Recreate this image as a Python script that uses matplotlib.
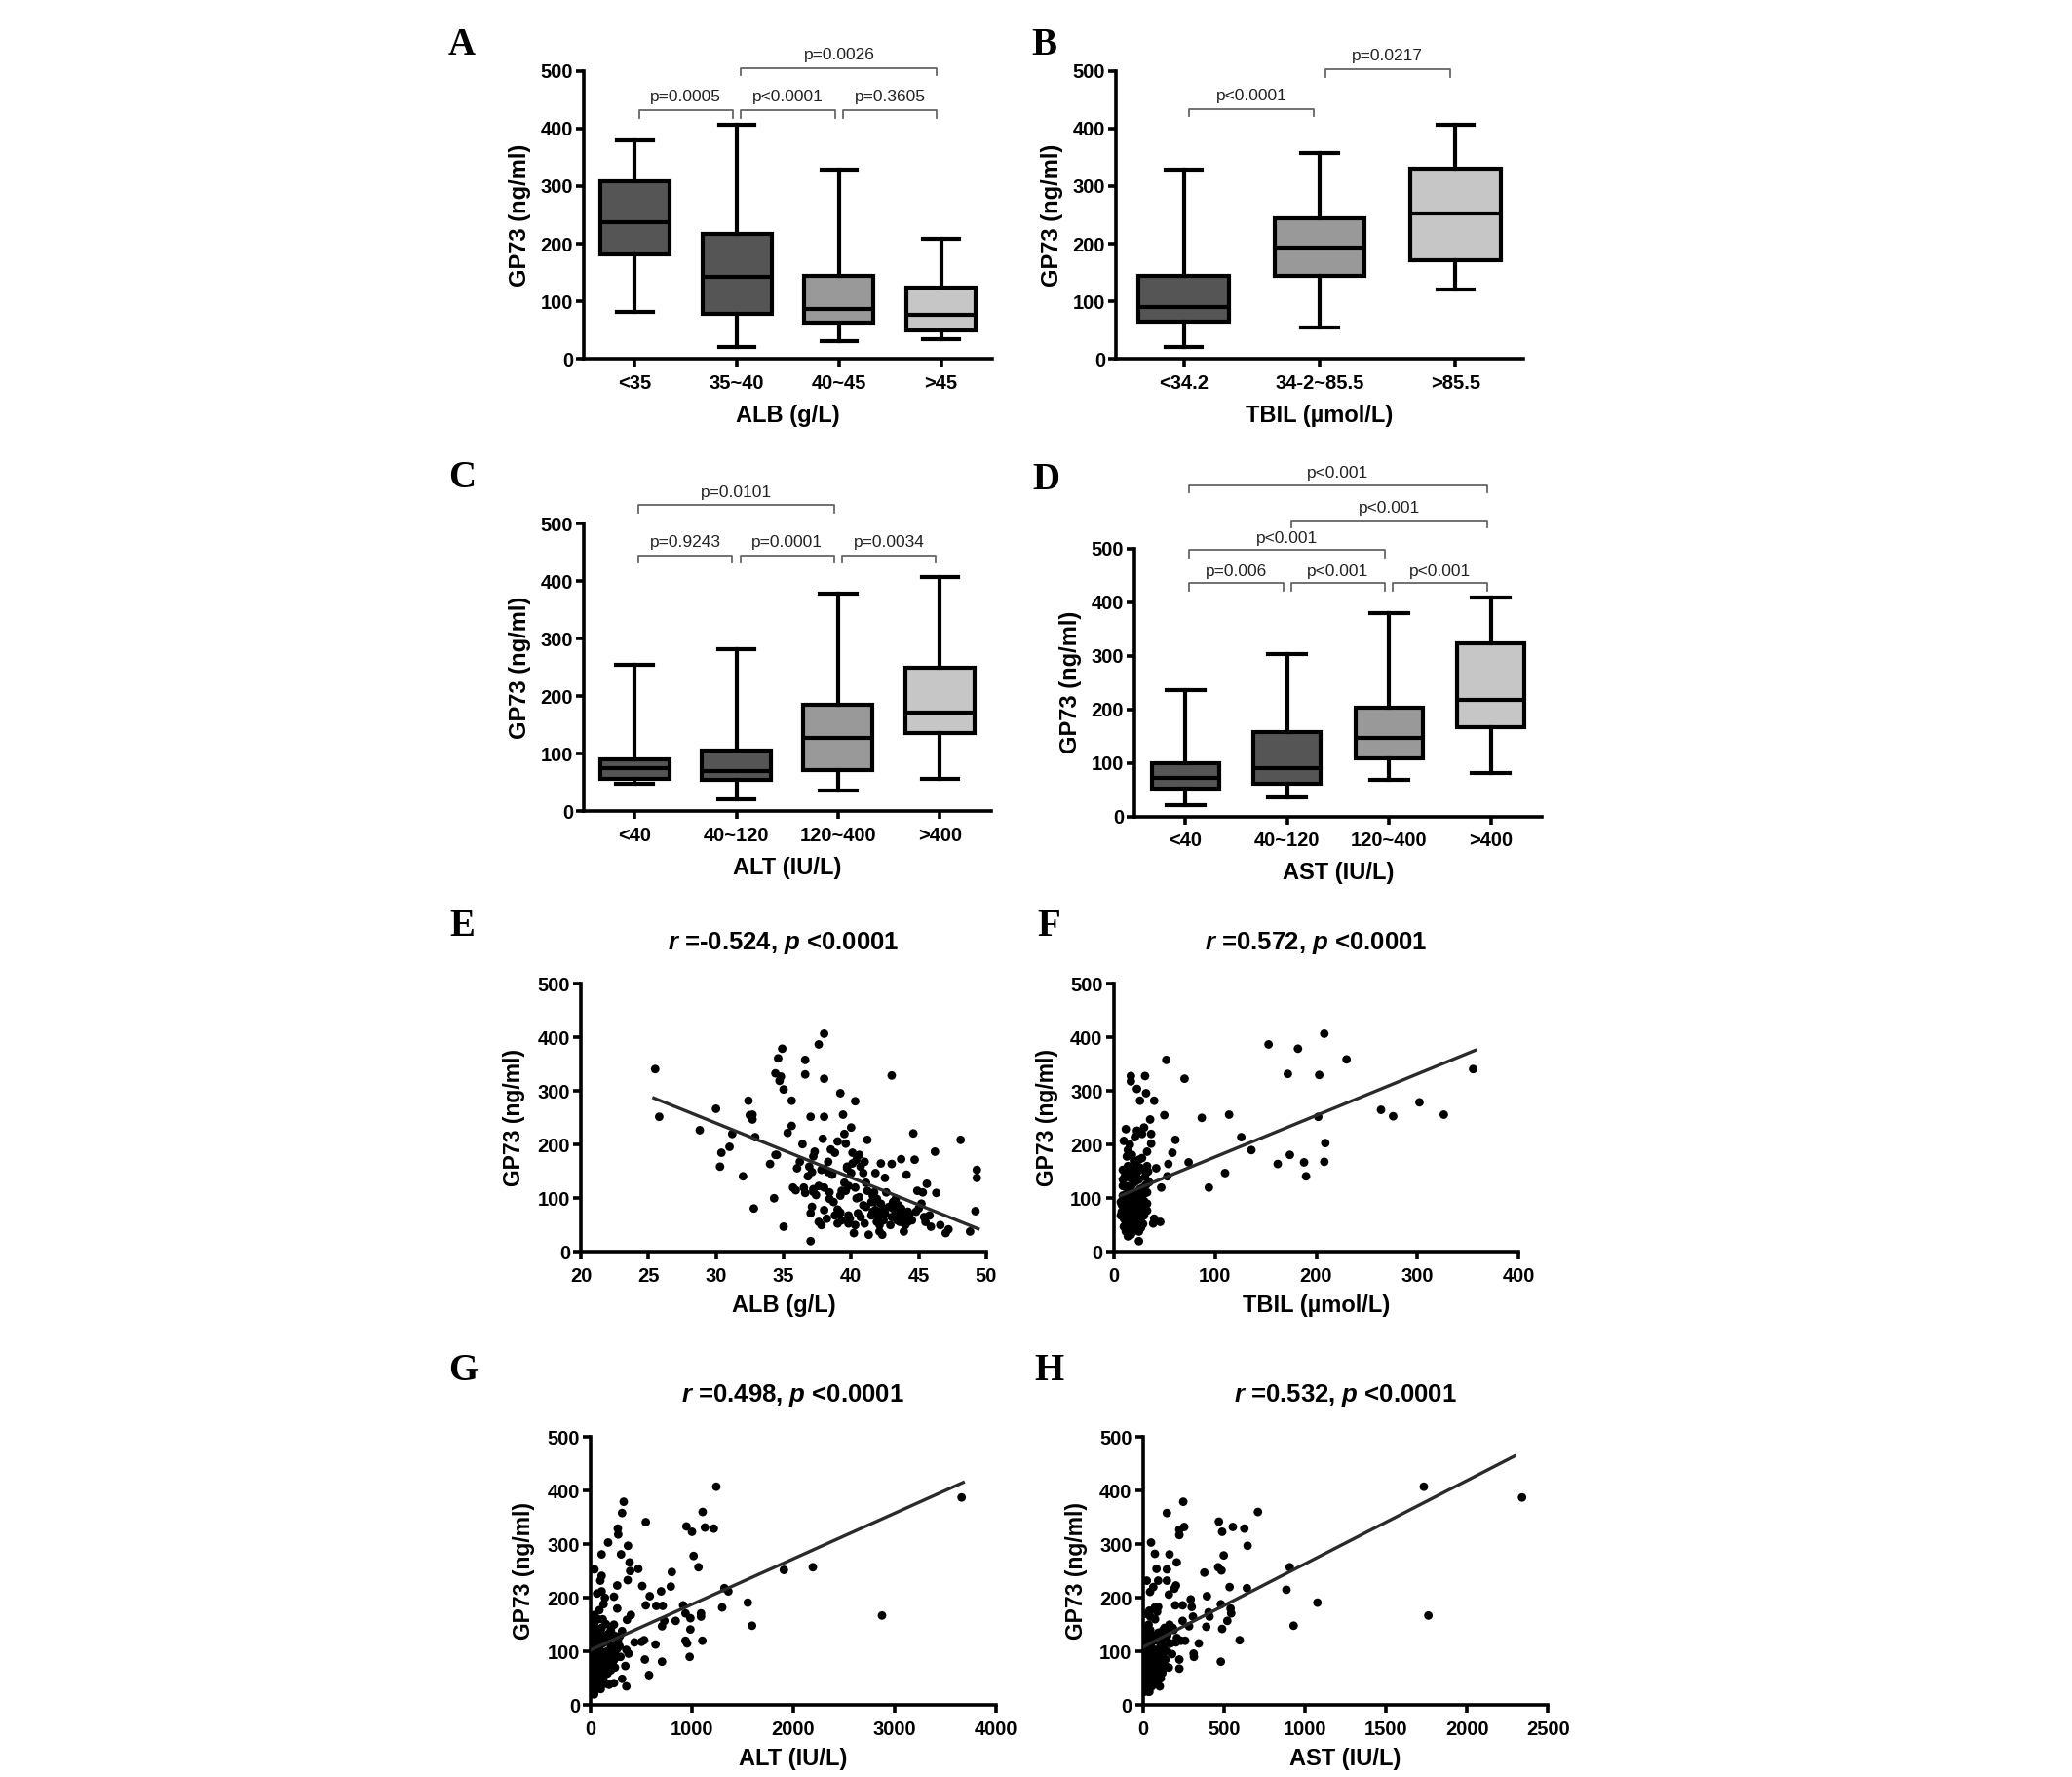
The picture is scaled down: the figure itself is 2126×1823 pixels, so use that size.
import numpy as np
import matplotlib
matplotlib.use('Agg')
import matplotlib.pyplot as plt

plt.rcParams['font.family'] = ['Liberation Sans', 'DejaVu Sans']
plt.rcParams['font.weight'] = 'bold'
plt.rcParams['axes.labelweight'] = 'bold'
plt.rcParams['mathtext.fontset'] = 'custom'
plt.rcParams['mathtext.it'] = 'Liberation Sans:italic:bold'
plt.rcParams['mathtext.rm'] = 'Liberation Sans:bold'

# ── Box plot data (GP73, ng/ml) ──────────────────────────────
alb_groups = ['<35', '35~40', '40~45', '>45']
alb_whislo = [81, 21, 31, 35]
alb_q1 = [181, 78, 63, 50]
alb_med = [237, 142, 86, 76]
alb_q3 = [308, 217, 144, 124]
alb_whishi = [379, 407, 329, 209]
alb_pvals = [(0, 1, 'p=0.0005', 432), (1, 2, 'p<0.0001', 432),
             (2, 3, 'p=0.3605', 432), (1, 3, 'p=0.0026', 505)]

tbil_groups = ['<34.2', '34-2~85.5', '>85.5']
tbil_whislo = [21, 54, 120]
tbil_q1 = [64, 144, 172]
tbil_med = [91, 193, 252]
tbil_q3 = [145, 244, 331]
tbil_whishi = [328, 358, 406]
tbil_pvals = [(0, 1, 'p<0.0001', 434), (1, 2, 'p=0.0217', 503)]

alt_groups = ['<40', '40~120', '120~400', '>400']
alt_whislo = [48, 21, 36, 57]
alt_q1 = [56, 54, 72, 136]
alt_med = [75, 70, 127, 171]
alt_q3 = [90, 105, 186, 249]
alt_whishi = [254, 282, 379, 407]
alt_pvals = [(0, 1, 'p=0.9243', 445), (1, 2, 'p=0.0001', 445),
             (2, 3, 'p=0.0034', 445), (0, 2, 'p=0.0101', 532)]

ast_groups = ['<40', '40~120', '120~400', '>400']
ast_whislo = [21, 35, 68, 82]
ast_q1 = [52, 61, 109, 167]
ast_med = [73, 90, 147, 218]
ast_q3 = [99, 158, 203, 323]
ast_whishi = [235, 304, 379, 408]
ast_pvals = [(0, 1, 'p=0.006', 435), (1, 2, 'p<0.001', 435),
             (2, 3, 'p<0.001', 435), (0, 2, 'p<0.001', 497),
             (1, 3, 'p<0.001', 553), (0, 3, 'p<0.001', 618)]

# ── Scatter data (x, GP73) ───────────────────────────────────
alb_xy = np.array([
    (25.5, 341), (25.8, 252), (28.8, 227), (30.0, 267), (30.4, 185), (30.3, 159), (31.0, 196),
    (31.2, 220), (32.0, 141), (32.4, 282), (32.5, 255), (32.7, 256), (32.7, 247), (32.9, 214),
    (32.8, 81), (34.0, 164), (34.3, 100), (34.4, 181), (34.5, 181), (34.4, 333), (34.6, 361),
    (34.7, 319), (34.8, 327), (34.9, 379), (35.0, 303), (35.0, 47), (35.3, 222), (35.6, 235),
    (35.6, 282), (35.7, 120), (35.9, 115), (36.0, 156), (36.2, 168), (36.4, 201), (36.6, 358),
    (36.6, 331), (36.5, 120), (36.6, 110), (36.8, 141), (36.9, 159), (37.0, 252), (37.0, 20),
    (37.1, 84), (37.0, 72), (37.1, 149), (37.2, 178), (37.3, 187), (37.4, 106), (37.2, 112),
    (37.2, 117), (37.6, 387), (37.6, 56), (37.8, 50), (37.9, 211), (38.0, 155), (38.0, 407),
    (38.0, 323), (38.0, 252), (38.0, 120), (38.0, 78), (38.2, 62), (38.3, 149), (38.4, 99),
    (38.4, 111), (38.5, 191), (38.8, 185), (39.0, 206), (39.0, 53), (39.2, 296), (39.0, 79),
    (39.2, 73), (39.3, 114), (39.4, 256), (39.6, 114), (39.5, 220), (39.6, 202), (39.7, 156),
    (39.8, 68), (39.9, 62), (39.8, 53), (40.0, 232), (40.1, 165), (40.1, 185), (40.2, 35),
    (40.3, 281), (40.3, 120), (40.4, 100), (40.5, 72), (40.6, 102), (40.7, 65), (40.7, 159),
    (40.9, 147), (41.0, 168), (41.1, 84), (41.1, 129), (41.2, 209), (41.2, 114), (41.3, 32),
    (41.5, 93), (41.6, 105), (41.6, 75), (41.7, 111), (41.8, 147), (41.8, 78), (41.9, 56),
    (42.0, 65), (42.1, 38), (42.2, 90), (42.2, 165), (42.3, 32), (42.4, 59), (42.5, 138),
    (42.5, 72), (42.6, 111), (42.8, 84), (42.9, 50), (43.0, 65), (43.0, 164), (43.0, 329),
    (43.1, 93), (43.3, 75), (43.4, 59), (43.5, 87), (43.6, 68), (43.7, 81), (43.7, 173),
    (43.8, 62), (43.9, 38), (44.0, 50), (44.1, 144), (44.2, 75), (44.3, 68), (44.5, 59),
    (44.6, 221), (44.7, 172), (44.8, 75), (44.9, 114), (45.0, 81), (45.2, 90), (45.3, 111),
    (45.4, 65), (45.5, 56), (45.6, 127), (45.8, 68), (45.9, 47), (46.2, 187), (46.3, 110),
    (46.6, 50), (47.0, 35), (47.2, 42), (48.1, 209), (48.8, 38), (49.2, 76), (49.3, 138),
    (49.3, 153), (43.3, 99), (43.5, 78), (43.7, 65), (43.9, 72), (44.1, 59), (44.2, 56),
    (43.4, 81), (43.6, 56), (43.1, 81), (42.4, 81), (42.2, 75), (42.1, 50), (41.7, 93),
    (41.9, 99), (41.5, 68), (40.9, 87), (39.8, 123), (39.1, 75), (38.7, 93), (37.6, 123),
    (37.8, 153), (38.3, 168), (38.6, 144), (40.4, 172), (40.6, 181), (39.5, 129), (39.7, 159),
    (40.0, 147), (39.2, 105), (38.8, 68), (39.3, 59), (40.3, 50), (41.0, 53)])
alb_fit_x = [25.4, 49.4]
alb_fit_y = [287, 43]

tbil_xy = np.array([
    (208, 407), (153, 387), (182, 379), (230, 359), (172, 332), (203, 330), (355, 341),
    (52, 358), (70, 323), (264, 265), (276, 253), (302, 279), (326, 256), (202, 252),
    (209, 203), (208, 168), (174, 181), (188, 167), (190, 141), (162, 164), (126, 214),
    (136, 190), (114, 256), (87, 250), (110, 147), (94, 120), (74, 167), (61, 209), (58, 185),
    (54, 164), (53, 141), (50, 255), (47, 120), (46, 56), (39, 53), (40, 62), (42, 156),
    (40, 282), (36, 247), (37, 220), (37, 202), (31, 328), (32, 296), (26, 282), (23, 304),
    (17, 328), (17, 318), (12, 229), (10, 207), (14, 190), (33, 111), (33, 90), (33, 187),
    (30, 232), (28, 220), (23, 226), (21, 214), (25, 172),
    (14, 160), (19, 152), (23, 148), (26, 157), (11, 141), (16, 138), (20, 129), (25, 135),
    (30, 153), (12, 123), (17, 117), (22, 108), (26, 117), (9, 105), (13, 96), (18, 93),
    (23, 84), (28, 81), (10, 81), (15, 72), (20, 68), (25, 56), (10, 62), (15, 50), (20, 44),
    (17, 32), (12, 38), (25, 38), (25, 20), (7, 93), (9, 123), (30, 68), (33, 77), (9, 153),
    (13, 178), (18, 181), (22, 160), (7, 68), (10, 47), (14, 29), (16, 100), (19, 85),
    (21, 75), (24, 95), (27, 105), (29, 120), (31, 140), (13, 110), (11, 90), (8, 75),
    (12, 55), (18, 60), (22, 55), (27, 62), (24, 73), (30, 95), (32, 125), (34, 150),
    (20, 140), (15, 150), (12, 145), (18, 125), (22, 132), (14, 88), (19, 105), (24, 112),
    (28, 95), (11, 70), (16, 62), (21, 90), (26, 72), (29, 52), (13, 45), (19, 38), (23, 62),
    (8, 88), (16, 80), (21, 50), (27, 45), (31, 110), (35, 130), (20, 170), (16, 200),
    (28, 175), (33, 160), (12, 100), (17, 70), (22, 95), (9, 135), (15, 120)])
tbil_fit_x = [7, 357]
tbil_fit_y = [105, 376]

alt_xy = np.array([
    (1241, 407), (3663, 387), (1106, 360), (1129, 331), (1216, 329), (946, 333), (1001, 323),
    (1017, 278), (1065, 257), (545, 341), (327, 379), (311, 358), (269, 329), (273, 318),
    (369, 297), (301, 281), (173, 303), (109, 281), (38, 253), (385, 266), (391, 250),
    (471, 254), (366, 233), (263, 223), (510, 222), (802, 248), (792, 221), (696, 212),
    (584, 203), (545, 186), (648, 185), (712, 185), (914, 186), (937, 171), (985, 162),
    (985, 141), (1090, 171), (1090, 165), (1103, 120), (937, 120), (953, 115), (978, 90),
    (840, 157), (728, 157), (705, 147), (1299, 182), (1321, 218), (1360, 212), (1552, 191),
    (1594, 148), (1908, 252), (2194, 257), (2877, 167), (536, 85), (705, 81), (577, 56),
    (641, 113), (529, 121), (503, 118), (433, 117), (398, 168), (359, 159), (353, 103),
    (375, 96), (343, 73), (311, 49), (353, 35), (199, 90), (141, 200), (87, 177), (231, 202),
    (263, 180), (231, 150), (311, 138), (38, 168), (64, 208), (109, 212), (128, 188),
    (151, 151), (109, 144), (55, 132), (96, 232), (109, 241), (167, 132), (199, 111),
    (263, 105), (289, 129), (231, 84), (167, 59), (183, 38), (231, 41), (295, 90),
    (10, 95), (20, 80), (30, 70), (40, 60), (50, 50), (15, 40), (25, 30), (35, 20), (5, 110),
    (60, 100), (70, 85), (80, 75), (90, 65), (100, 55), (110, 45), (120, 70), (130, 90),
    (140, 60), (150, 80), (160, 100), (170, 75), (60, 120), (45, 130), (30, 115), (20, 125),
    (10, 60), (5, 75), (25, 55), (50, 70), (80, 40), (100, 100), (120, 115), (200, 65),
    (220, 75), (250, 110), (270, 120), (230, 130), (180, 120), (90, 110), (40, 90),
    (15, 140), (35, 150), (65, 140), (75, 160), (95, 135), (55, 35), (40, 25), (12, 50),
    (70, 55), (140, 40), (20, 100), (35, 85), (55, 95), (75, 65), (95, 85), (115, 95),
    (135, 75), (155, 60), (190, 85), (210, 100), (240, 70), (260, 90), (285, 110), (30, 50),
    (50, 30), (70, 40), (100, 30), (125, 50), (20, 65), (45, 110), (85, 120), (110, 130),
    (10, 120), (60, 75), (160, 125), (200, 140), (240, 95), (25, 160), (120, 160), (5, 45)])
alt_fit_x = [0, 3679]
alt_fit_y = [103, 415]

ast_xy = np.array([
    (1734, 407), (2340, 387), (1762, 167), (1077, 191), (930, 148), (886, 215), (906, 257),
    (710, 360), (249, 379), (148, 358), (255, 332), (225, 327), (225, 317), (50, 303),
    (74, 282), (164, 281), (84, 254), (148, 253), (209, 266), (148, 232), (379, 247),
    (469, 342), (489, 323), (555, 332), (626, 329), (646, 297), (499, 279), (465, 257),
    (485, 251), (535, 220), (642, 218), (395, 203), (481, 188), (541, 180), (545, 171),
    (521, 157), (489, 142), (597, 121), (481, 81), (345, 115), (313, 96), (315, 90),
    (225, 85), (225, 68), (391, 146), (411, 165), (405, 173), (295, 197), (301, 183),
    (309, 165), (285, 147), (245, 157), (245, 186), (200, 186), (204, 223), (194, 217),
    (160, 206), (94, 232), (64, 220), (24, 232), (44, 211), (40, 176), (74, 182), (94, 183),
    (88, 174), (184, 144), (164, 150), (134, 144), (261, 120), (235, 120), (204, 117),
    (144, 71), (104, 35), (88, 50),
    (10, 100), (20, 85), (30, 75), (40, 65), (50, 55), (15, 45), (25, 35), (35, 25), (5, 115),
    (60, 105), (70, 90), (80, 80), (90, 70), (100, 60), (110, 50), (120, 95), (130, 110),
    (140, 125), (60, 130), (45, 140), (30, 120), (20, 130), (10, 60), (5, 75), (25, 55),
    (50, 75), (80, 45), (100, 105), (120, 130), (150, 100), (170, 115), (65, 120), (40, 95),
    (15, 140), (35, 150), (75, 160), (95, 135), (55, 35), (40, 25), (12, 50), (70, 55),
    (140, 85), (160, 70), (180, 95), (115, 75), (85, 100), (25, 170), (45, 165), (10, 25),
    (30, 40), (20, 110), (35, 90), (55, 80), (75, 70), (95, 90), (110, 115), (130, 85),
    (150, 130), (190, 140), (210, 125), (120, 60), (65, 45), (85, 60), (20, 60), (45, 50),
    (15, 90), (30, 100), (60, 95), (100, 80), (125, 140), (5, 130), (50, 115), (170, 140),
    (40, 130), (90, 120)])
ast_fit_x = [0, 2293]
ast_fit_y = [108, 464]

DARK, MID, LIGHT = '#555555', '#999999', '#c6c6c6'
W, H = 2126, 1823

fig = plt.figure(figsize=(W / 100, H / 100), dpi=100)


def rect(x0, y_top, x1, y_bot):
    return [x0 / W, 1 - y_bot / H, (x1 - x0) / W, (y_bot - y_top) / H]


def style(ax):
    for s in ['top', 'right']:
        ax.spines[s].set_visible(False)
    for s in ['left', 'bottom']:
        ax.spines[s].set_linewidth(2.6)
    ax.tick_params(width=2.6, length=6, labelsize=14.5, direction='out')
    ax.tick_params(axis='y', pad=2)
    ax.tick_params(axis='x', pad=5)


def box_panel(r, groups, lo, q1, med, q3, hi, colors, pvals, xlabel, width, capw):
    ax = fig.add_axes(r)
    stats = [dict(label=g, whislo=a, q1=b, med=c, q3=d, whishi=e)
             for g, a, b, c, d, e in zip(groups, lo, q1, med, q3, hi)]
    lw = 3.0
    bp = ax.bxp(stats, positions=np.arange(len(groups)), widths=width, capwidths=capw,
                patch_artist=True, showfliers=False,
                boxprops=dict(linewidth=lw, edgecolor='black'),
                medianprops=dict(color='black', linewidth=lw),
                whiskerprops=dict(color='black', linewidth=lw),
                capprops=dict(color='black', linewidth=lw))
    for patch, c in zip(bp['boxes'], colors):
        patch.set_facecolor(c)
    ax.set_xlim(-0.5, len(groups) - 0.5)
    ax.set_ylim(0, 500)
    ax.set_yticks(range(0, 501, 100))
    style(ax)
    ax.set_xlabel(xlabel, fontsize=17, labelpad=9)
    ax.set_ylabel('GP73 (ng/ml)', fontsize=17, labelpad=7)
    for i, j, txt, top in pvals:
        x1, x2 = i + 0.04, j - 0.04
        ax.plot([x1, x1, x2, x2], [top - 13, top, top, top - 13], color='#666666',
                lw=1.3, clip_on=False)
        ax.text((x1 + x2) / 2, top + 22, txt, ha='center', va='center', fontsize=12.5,
                fontweight='normal', color='#222222', clip_on=False)
    return ax


def scatter_panel(r, xy, fx, fy, xlim, xticks, xlabel, title):
    ax = fig.add_axes(r)
    ax.scatter(xy[:, 0], xy[:, 1], s=40, color='black', edgecolors='none', zorder=3)
    ax.plot(fx, fy, color='#2a2a2a', lw=2.4, zorder=4)
    ax.set_xlim(*xlim)
    ax.set_ylim(0, 500)
    ax.set_xticks(xticks)
    ax.set_yticks(range(0, 501, 100))
    style(ax)
    ax.set_xlabel(xlabel, fontsize=17, labelpad=7)
    ax.set_ylabel('GP73 (ng/ml)', fontsize=16.5, labelpad=9)
    ax.text(0.5, 1.153, title, transform=ax.transAxes, ha='center', va='center',
            fontsize=18.5)
    return ax


box_panel(rect(599, 72.7, 1018, 368.3), alb_groups, alb_whislo, alb_q1, alb_med, alb_q3,
          alb_whishi, [DARK, DARK, MID, LIGHT], alb_pvals, 'ALB (g/L)', 0.68, 0.35)
box_panel(rect(1145, 72.7, 1563, 368.3), tbil_groups, tbil_whislo, tbil_q1, tbil_med,
          tbil_q3, tbil_whishi, [DARK, MID, LIGHT], tbil_pvals, 'TBIL (\u00b5mol/L)',
          0.665, 0.27)
box_panel(rect(599, 537.3, 1016.5, 832.3), alt_groups, alt_whislo, alt_q1, alt_med, alt_q3,
          alt_whishi, [DARK, DARK, MID, LIGHT], alt_pvals, 'ALT (IU/L)', 0.68, 0.36)
box_panel(rect(1164, 562.7, 1582, 837.7), ast_groups, ast_whislo, ast_q1, ast_med, ast_q3,
          ast_whishi, [DARK, DARK, MID, LIGHT], ast_pvals, 'AST (IU/L)', 0.66, 0.37)

scatter_panel(rect(596, 1009.3, 1012, 1284.3), alb_xy, alb_fit_x, alb_fit_y, (20, 50),
              range(20, 51, 5), 'ALB (g/L)', r'$r$ =-0.524, $p$ <0.0001')
scatter_panel(rect(1142.7, 1009.3, 1558.3, 1284.3), tbil_xy, tbil_fit_x, tbil_fit_y,
              (0, 400), range(0, 401, 100), 'TBIL (\u00b5mol/L)', r'$r$ =0.572, $p$ <0.0001')
scatter_panel(rect(606, 1474, 1021.7, 1749.3), alt_xy, alt_fit_x, alt_fit_y, (0, 4000),
              range(0, 4001, 1000), 'ALT (IU/L)', r'$r$ =0.498, $p$ <0.0001')
scatter_panel(rect(1172.7, 1474, 1588.3, 1749.3), ast_xy, ast_fit_x, ast_fit_y, (0, 2500),
              range(0, 2501, 500), 'AST (IU/L)', r'$r$ =0.532, $p$ <0.0001')

# panel letters
letters = ['A', 'B', 'C', 'D', 'E', 'F', 'G', 'H']
letter_pos = [(474, 47), (1071, 47), (474, 490), (1073, 492),
              (474, 950), (1076, 950), (475, 1407), (1076, 1407)]
for lab, (px, py) in zip(letters, letter_pos):
    fig.text(px / W, 1 - py / H, lab, ha='center', va='center', fontsize=28,
             family='Liberation Serif', fontweight='bold')

fig.savefig('out.png', dpi=100)
